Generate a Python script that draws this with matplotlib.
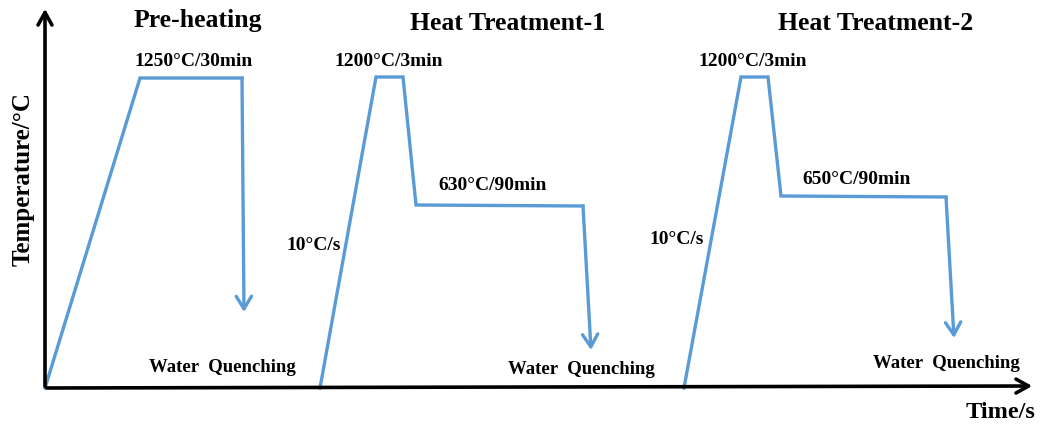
import matplotlib.pyplot as plt

plt.rcParams['font.family'] = ['Liberation Serif', 'DejaVu Serif']
plt.rcParams['font.weight'] = 'bold'

blue = '#5b9bd5'

# schematic profiles (time, temperature) in chart units
pre_t = [0, 95, 197, 199]
pre_T = [0, 310, 310, 76]
ht1_t = [275, 331, 358, 371, 538, 546]
ht1_T = [0, 311, 311, 183, 182, 38]
ht2_t = [639, 696, 723, 736, 901, 909]
ht2_T = [0, 311, 311, 192, 191, 50]

titles = ['Pre-heating', 'Heat Treatment-1', 'Heat Treatment-2']
title_x = [153, 463, 831]
title_y = [368, 365, 365]
hold_labels = ['1250°C/30min', '1200°C/3min', '1200°C/3min']
hold_x = [149, 344, 708]
temper_labels = ['630°C/90min', '650°C/90min']
temper_x = [448, 812]
temper_y = [203, 208]
rate_x = [269, 632]
rate_y = [142, 148]
wq_x = [177, 536, 901]
wq_y = [21, 18, 24]

fig = plt.figure(figsize=(10.41, 4.30), dpi=100)
ax = fig.add_axes([0, 0, 1, 1])
ax.set_xlim(-45, 996)
ax.set_ylim(-42, 388)
ax.axis('off')

# axes arrows
ax.annotate('', xy=(0, 382), xytext=(0, -1),
            arrowprops=dict(arrowstyle='->,head_length=0.9,head_width=0.5', lw=2.6, color='black'))
ax.annotate('', xy=(990, 2), xytext=(-1, 0),
            arrowprops=dict(arrowstyle='->,head_length=0.9,head_width=0.5', lw=2.6, color='black'))

for t, T in [(pre_t, pre_T), (ht1_t, ht1_T), (ht2_t, ht2_T)]:
    ax.plot(t[:-1], T[:-1], color=blue, lw=2.4, solid_joinstyle='miter')
    ax.annotate('', xy=(t[-1], T[-1]), xytext=(t[-2], T[-2]),
                arrowprops=dict(arrowstyle='->,head_length=0.9,head_width=0.55',
                                lw=2.4, color=blue, shrinkA=0, shrinkB=0))

for s, x, y in zip(titles, title_x, title_y):
    ax.text(x, y, s, fontsize=18.5, fontweight='bold', ha='center', va='center')
for s, x in zip(hold_labels, hold_x):
    ax.text(x, 327, s, fontsize=14, fontweight='bold', ha='center', va='center')
for s, x, y in zip(temper_labels, temper_x, temper_y):
    ax.text(x, y, s, fontsize=14, fontweight='bold', ha='center', va='center')
for x, y in zip(rate_x, rate_y):
    ax.text(x, y, '10°C/s', fontsize=14, fontweight='bold', ha='center', va='center')
for x, y in zip(wq_x, wq_y):
    ax.text(x, y, 'Water  Quenching', fontsize=13.5, fontweight='bold', ha='center', va='center')

ax.text(-22, 209, 'Temperature/°C', fontsize=18, fontweight='bold', rotation=90,
        ha='center', va='center')
ax.text(955, -25, 'Time/s', fontsize=17.5, fontweight='bold', ha='center', va='center')

fig.savefig('out.png', dpi=100)
